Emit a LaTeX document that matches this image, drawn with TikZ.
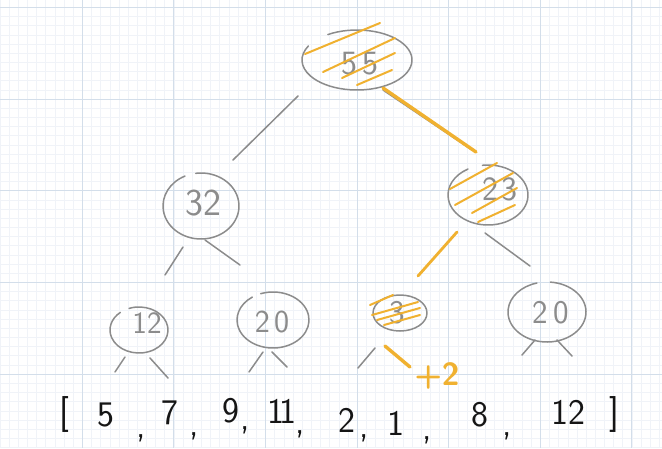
\documentclass[tikz,border=0pt]{standalone}
\usetikzlibrary{calc}
\definecolor{pengray}{HTML}{8C8C8C}
\definecolor{hl}{HTML}{F0B130}
\definecolor{gridmaj}{HTML}{D3DEEA}
\definecolor{gridmin}{HTML}{F0F3F8}
\definecolor{ink}{HTML}{151515}
\tikzset{
  pen/.style={draw=pengray, line width=1.5pt, line cap=round, line join=round},
  hlpen/.style={draw=hl, line width=3.4pt, line cap=round, line join=round},
  hatch/.style={draw=hl, line width=2pt, line cap=round},
  digits/.style={text=pengray, inner sep=0pt, font=\sffamily\fontsize{36}{36}\selectfont},
  arr/.style={text=ink, inner sep=0pt, font=\sffamily\fontsize{36}{36}\selectfont},
  plus/.style={text=hl, inner sep=0pt, font=\sffamily\bfseries\fontsize{32}{32}\selectfont},
}
\newcommand\handoval[7]{\draw[pen] ($(#1)+(#2,#3)+({#4*cos(#6)},{#5*sin(#6)})$) arc[start angle=#6, end angle=#7, x radius=#4, y radius=#5];}
\begin{document}
\begin{tikzpicture}[x=1pt,y=-1pt]
\useasboundingbox (0,0) rectangle (662,448);
\fill[white] (0,0) rectangle (662,448);
% grid
\begin{scope}
\clip (0,0) rectangle (662,448);
\foreach \i in {0,...,75} {\draw[gridmin, line width=0.5pt] ({-9.3+9.16*\i},0) -- ({-9.3+9.16*\i},448);}
\foreach \i in {0,...,50} {\draw[gridmin, line width=0.5pt] (0,{-1.9+9.17*\i}) -- (662,{-1.9+9.17*\i});}
\foreach \i in {0,...,7} {\draw[gridmaj, line width=0.9pt] ({-9.3+91.6*\i},0) -- ({-9.3+91.6*\i},448);}
\foreach \i in {0,...,5} {\draw[gridmaj, line width=0.9pt] (0,{7.3+91.7*\i}) -- (662,{7.3+91.7*\i});}
\end{scope}

% tree values
\node[digits, font=\sffamily\fontsize{34}{34}\selectfont] (root) at (360,64) {5\hspace{5pt}5};
\node[digits, font=\sffamily\fontsize{38}{38}\selectfont] (n32) at (203,203) {32};
\node[digits, font=\sffamily\fontsize{34}{34}\selectfont] (n23) at (500,189) {2\hspace{3pt}3};
\node[digits, font=\sffamily\fontsize{31}{31}\selectfont] (n12) at (147,323) {12};
\node[digits, font=\sffamily\fontsize{32}{32}\selectfont] (n20a) at (272,322) {2\hspace{4pt}0};
\node[digits, font=\sffamily\fontsize{33}{33}\selectfont] (n3) at (397,313) {3};
\node[digits, font=\sffamily\fontsize{33}{33}\selectfont] (n20b) at (551,313) {2\hspace{6pt}0};

% array
\node[arr] (lb) at (64,414) {[};
\node[arr] (a1) at (106,415) {5};
\node[arr] (c1) at (141,438) {,};
\node[arr] (a2) at (170,413) {7};
\node[arr] (c2) at (194,436) {,};
\node[arr] (a3) at (231,411) {9};
\node[arr] (c3) at (245,430) {,};
\node[arr] (a4) at (282,411) {1\kern-5pt1};
\node[arr] (c4) at (300,434) {,};
\node[arr] (a5) at (347,420) {2};
\node[arr] (c5) at (364,438) {,};
\node[arr] (a6) at (396,423) {1};
\node[arr] (c6) at (427,440) {,};
\node[arr] (a7) at (480,415) {8};
\node[arr] (c7) at (507,436) {,};
\node[arr] (a8) at (568,412) {12};
\node[arr] (rb) at (614,414) {]};

% ovals
\handoval{root}{-3}{-4}{55}{30}{238}{568}
\handoval{n32}{-2}{3}{38}{33}{262}{605}
\handoval{n23}{-12}{6}{40}{30}{262}{600}
\handoval{n12}{-8}{7}{29}{23}{250}{590}
\handoval{n20a}{1}{-2}{36}{28}{250}{595}
\handoval{n3}{3}{0}{27}{18}{0}{360}
\handoval{n20b}{-4}{-1}{39}{30}{275}{615}

% hatching
\draw[hatch] (305,54) -- (380,23);
\draw[hatch] (323,72) -- (395,38);
\draw[hatch] (342,78) -- (395,53);
\draw[hatch] (357,85) -- (392,70);
\draw[hatch] (450,189) -- (497,163);
\draw[hatch] (455,205) -- (513,173);
\draw[hatch] (472,213) -- (517,188);
\draw[hatch] (478,222) -- (515,205);
\draw[hatch] (370,305) -- (393,295);
\draw[hatch] (372,315) -- (418,302);
\draw[hatch] (377,320) -- (420,308);
\draw[hatch] (384,325) -- (420,315);

% connectors
\draw[pen] ($(root)+(-62,32)$) -- ($(n32)+(30,-43)$);
\draw[pen] ($(root)+(23,26)$) -- ($(n23)+(-28,-39)$);
\draw[hlpen] ($(root)+(23,24)$) -- ($(n23)+(-24,-37)$);
\draw[pen] ($(n32)+(-20,44)$) -- ($(n12)+(18,-48)$);
\draw[pen] ($(n32)+(2,37)$) -- ($(n20a)+(-32,-57)$);
\draw[hlpen, line width=2.8pt] ($(n23)+(-43,43)$) -- ($(n3)+(21,-37)$);
\draw[pen] ($(n23)+(-15,44)$) -- ($(n20b)+(-21,-47)$);
\draw[pen] ($(n12)+(-22,34)$) -- ($(a1)+(9,-43)$);
\draw[pen] ($(n12)+(3,35)$) -- ($(a2)+(-2,-35)$);
\draw[pen] ($(n20a)+(-9,30)$) -- ($(a3)+(18,-39)$);
\draw[pen] ($(n20a)+(0,30)$) -- ($(a4)+(5,-44)$);
\draw[pen] ($(n3)+(-22,35)$) -- ($(a5)+(11,-52)$);
\draw[hlpen] ($(n3)+(-12,33)$) -- ($(a6)+(14,-56)$);
\draw[pen] ($(n20b)+(-16,27)$) -- ($(a7)+(42,-60)$);
\draw[pen] ($(n20b)+(6,27)$) -- ($(a8)+(4,-56)$);

\node[plus] (inc) at (437,376) {+2};
\end{tikzpicture}
\end{document}
